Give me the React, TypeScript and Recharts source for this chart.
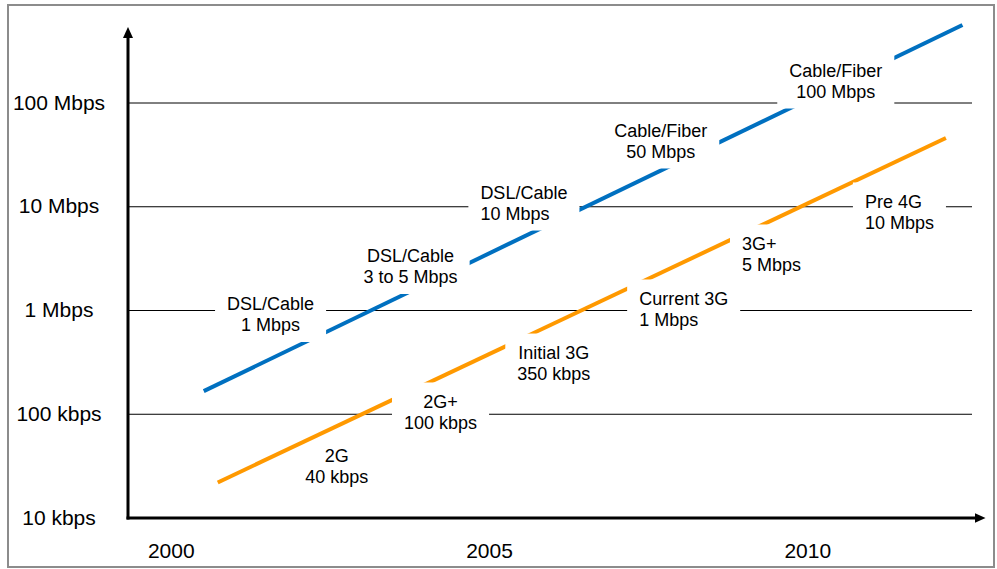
import React from "react";
import {
  ComposedChart,
  Line,
  Scatter,
  XAxis,
  YAxis,
  ReferenceLine,
} from "recharts";

// speeds are in kbps, x is the year
const FIXED_YEARS = [2000.51, 2012.43];
const FIXED_KBPS = [167, 565000];
const MOBILE_YEARS = [2000.73, 2012.17];
const MOBILE_KBPS = [22, 46000];

const FIXED_LABEL_YEARS = [2001.56, 2003.76, 2005.54, 2007.69, 2010.44];
const FIXED_LABEL_KBPS = [905, 2626, 10740, 42560, 161100];
const FIXED_LABEL_TEXT = [
  ["DSL/Cable", "1 Mbps"],
  ["DSL/Cable", "3 to 5 Mbps"],
  ["DSL/Cable", "10 Mbps"],
  ["Cable/Fiber", "50 Mbps"],
  ["Cable/Fiber", "100 Mbps"],
];

const MOBILE_LABEL_YEARS = [2002.6, 2004.23, 2006.01, 2008.05, 2009.43, 2011.44];
const MOBILE_LABEL_KBPS = [31.4, 104, 308, 1023, 3467, 8810];
const MOBILE_LABEL_TEXT = [
  ["2G", "40 kbps"],
  ["2G+", "100 kbps"],
  ["Initial 3G", "350 kbps"],
  ["Current 3G", "1 Mbps"],
  ["3G+", "5 Mbps"],
  ["Pre 4G", "10 Mbps"],
];

// labels whose two lines are left aligned instead of centred
const LEFT_ALIGNED = ["DSL/Cable|10 Mbps", "Current 3G|1 Mbps", "3G+|5 Mbps", "Pre 4G|10 Mbps"];
// labels drawn without the white box behind them
const NO_BOX = ["2G|40 kbps"];

const X_TICKS = [2000, 2005, 2010];
const Y_TICKS = [10, 100, 1000, 10000, 100000];
const Y_TICK_LABELS = ["10 kbps", "100 kbps", "1 Mbps", "10 Mbps", "100 Mbps"];
const GRID_VALUES = [100, 1000, 10000, 100000];

const X_DOMAIN = [1999.32, 2012.58];
const Y_DOMAIN = [10, 631000];
const X_ARROW_END = 2012.62;
const Y_ARROW_END = 423600;

const FONT = "'Liberation Sans', Arial, sans-serif";

const fixedData = FIXED_YEARS.map((year, i) => ({ year, kbps: FIXED_KBPS[i] }));
const mobileData = MOBILE_YEARS.map((year, i) => ({ year, kbps: MOBILE_KBPS[i] }));
const labelData = [
  ...FIXED_LABEL_YEARS.map((year, i) => ({ year, kbps: FIXED_LABEL_KBPS[i], lines: FIXED_LABEL_TEXT[i] })),
  ...MOBILE_LABEL_YEARS.map((year, i) => ({ year, kbps: MOBILE_LABEL_KBPS[i], lines: MOBILE_LABEL_TEXT[i] })),
];

let ctx: CanvasRenderingContext2D | null = null;
const measure = (text: string) => {
  if (!ctx) ctx = document.createElement("canvas").getContext("2d");
  if (!ctx) return text.length * 9;
  ctx.font = `18px ${FONT}`;
  return ctx.measureText(text).width;
};

const LabelBox = (props: any) => {
  const { cx, cy, payload } = props;
  const lines: string[] = payload.lines;
  const key = lines.join("|");
  const w = Math.max(...lines.map(measure)) + 24;
  const left = cx - w / 2;
  const leftAligned = LEFT_ALIGNED.includes(key);
  return (
    <g>
      {!NO_BOX.includes(key) && <rect x={left} y={cy - 30} width={w} height={57} fill="#fff" />}
      {lines.map((t, i) => (
        <text
          key={i}
          x={leftAligned ? left + 12 : cx}
          y={cy + (i - 0.5) * 21}
          textAnchor={leftAligned ? "start" : "middle"}
          dominantBaseline="central"
          fontSize={18}
          fontFamily={FONT}
          fill="#000"
        >
          {t}
        </text>
      ))}
    </g>
  );
};

const YTick = (props: any) => {
  const { x, y, index } = props;
  return (
    <text x={x} y={y - 1} textAnchor="middle" dominantBaseline="central" fontSize={21} fontFamily={FONT} fill="#000">
      {Y_TICK_LABELS[index]}
    </text>
  );
};

const axisShape = (p: any) => (
  <line
    x1={p.x1}
    y1={p.y1}
    x2={p.x2}
    y2={p.y2}
    stroke="#000"
    strokeWidth={3}
    strokeLinecap="square"
    markerEnd="url(#axisArrow)"
  />
);

export default function App() {
  return (
    <div style={{ position: "absolute", left: 0, top: 0, width: 997, height: 569, background: "#fff" }}>
      <svg width={0} height={0} style={{ position: "absolute" }}>
        <defs>
          <marker id="axisArrow" markerUnits="userSpaceOnUse" markerWidth={11} markerHeight={10} refX={0} refY={5} orient="auto">
            <path d="M0,0 L11,5 L0,10 Z" fill="#000" />
          </marker>
        </defs>
      </svg>
      <div
        style={{
          position: "absolute",
          left: 7,
          top: 4,
          width: 988,
          height: 564,
          border: "2px solid #8c8c8c",
          boxSizing: "border-box",
        }}
      />
      <div style={{ position: "absolute", left: 0, top: 0 }}>
        <ComposedChart width={997} height={569} margin={{ top: 20, right: 25, bottom: 11, left: 8 }}>
          <XAxis
            type="number"
            dataKey="year"
            domain={X_DOMAIN}
            allowDataOverflow
            ticks={X_TICKS}
            axisLine={false}
            tickLine={false}
            tickSize={0}
            tickMargin={25}
            height={40}
            tick={{ fontSize: 21, fontFamily: FONT, fill: "#000" }}
          />
          <YAxis
            type="number"
            dataKey="kbps"
            scale="log"
            domain={Y_DOMAIN}
            allowDataOverflow
            ticks={Y_TICKS}
            axisLine={false}
            tickLine={false}
            tickSize={0}
            tickMargin={69}
            width={120}
            tick={<YTick />}
          />
          {GRID_VALUES.map((v) => (
            <ReferenceLine key={v} y={v} stroke="#000" strokeWidth={1} />
          ))}
          <ReferenceLine
            segment={[{ x: X_DOMAIN[0], y: Y_DOMAIN[0] }, { x: X_DOMAIN[0], y: Y_ARROW_END }]}
            ifOverflow="visible"
            shape={axisShape}
          />
          <ReferenceLine
            segment={[{ x: X_DOMAIN[0], y: Y_DOMAIN[0] }, { x: X_ARROW_END, y: Y_DOMAIN[0] }]}
            ifOverflow="visible"
            shape={axisShape}
          />
          <Line data={fixedData} dataKey="kbps" stroke="#0070C0" strokeWidth={4} dot={false} isAnimationActive={false} />
          <Line data={mobileData} dataKey="kbps" stroke="#FF9900" strokeWidth={4} dot={false} isAnimationActive={false} />
          <Scatter data={labelData} dataKey="kbps" shape={<LabelBox />} isAnimationActive={false} />
        </ComposedChart>
      </div>
    </div>
  );
}
